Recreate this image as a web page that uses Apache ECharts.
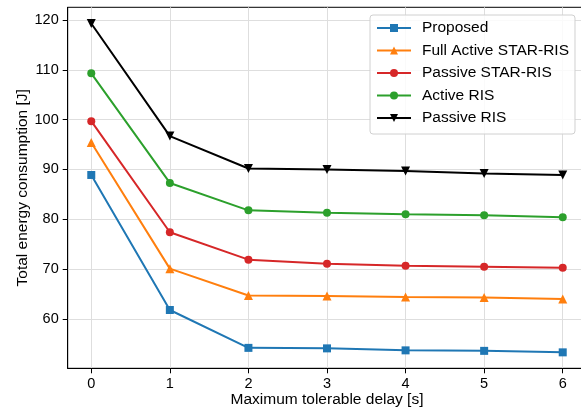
<!DOCTYPE html>
<html>
<head>
<meta charset="utf-8">
<script src="https://cdn.jsdelivr.net/npm/echarts@6/dist/echarts.min.js"></script>
<style>
html,body{margin:0;padding:0;background:#fff;}
#chart{width:581px;height:408px;}
</style>
</head>
<body>
<div id="chart"></div>
<script>
const delays = [0, 1, 2, 3, 4, 5, 6];
const xTicks = [0, 1, 2, 3, 4, 5, 6];
const yTicks = [60, 70, 80, 90, 100, 110, 120];
const proposed    = [88.9, 61.8, 54.2, 54.1, 53.7, 53.6, 53.3];
const fullActive  = [95.4, 70.1, 64.7, 64.6, 64.4, 64.3, 64.0];
const passiveStar = [99.7, 77.4, 71.9, 71.1, 70.7, 70.5, 70.3];
const activeRis   = [109.3, 87.3, 81.8, 81.3, 81.0, 80.8, 80.4];
const passiveRis  = [119.3, 96.7, 90.2, 90.0, 89.7, 89.2, 88.9];

const FONT = 'Liberation Sans, Arial, Helvetica, sans-serif';
const FS = 15.5;
const TFS = 14.5;
const downTri = 'path://M0,0 L10,0 L5,9 Z';

function mk(name, vals, color, symbol, size) {
  return {
    name: name,
    type: 'line',
    data: delays.map((d, i) => [d, vals[i]]),
    symbol: symbol,
    symbolSize: size,
    showAllSymbol: true,
    lineStyle: { color: color, width: 2 },
    itemStyle: { color: color },
    emphasis: { disabled: true },
    animation: false
  };
}

const chart = echarts.init(document.getElementById('chart'), null, { renderer: 'canvas' });
chart.setOption({
  animation: false,
  backgroundColor: '#fff',
  textStyle: { fontFamily: FONT },
  grid: {
    left: 67.7, right: -5.3, top: 7.3, bottom: 39.7,
    outerBoundsMode: 'none', containLabel: false,
    show: true, borderColor: '#000', borderWidth: 1, backgroundColor: 'transparent'
  },
  legend: {
    orient: 'vertical',
    left: 370, top: 15,
    padding: [5, 6, 8, 6],
    itemWidth: 34, itemHeight: 10, itemGap: 6.5,
    backgroundColor: 'rgba(255,255,255,0.85)',
    borderColor: '#d0d0d0', borderWidth: 1, borderRadius: 3,
    textStyle: { fontFamily: FONT, fontSize: FS, color: '#000', padding: [0, 0, 0, 6] },
    data: ['Proposed', 'Full Active STAR-RIS', 'Passive STAR-RIS', 'Active RIS', 'Passive RIS']
  },
  xAxis: {
    type: 'value',
    min: -0.3, max: 6.3,
    name: 'Maximum tolerable delay [s]',
    nameLocation: 'middle', nameGap: 23, nameMoveOverlap: false,
    nameTextStyle: { fontFamily: FONT, fontSize: FS, color: '#000' },
    axisLine: { show: true, onZero: false, lineStyle: { color: '#000', width: 1 } },
    axisTick: { show: true, inside: false, length: 5, customValues: xTicks, lineStyle: { color: '#000', width: 1 } },
    axisLabel: { customValues: xTicks, margin: 8, fontFamily: FONT, fontSize: TFS, color: '#000' },
    splitLine: { show: true, lineStyle: { color: '#dedede', width: 1 } }
  },
  yAxis: {
    type: 'value',
    min: 50.1, max: 122.55,
    name: 'Total energy consumption [J]',
    nameLocation: 'middle', nameGap: 37, nameMoveOverlap: false,
    nameTextStyle: { fontFamily: FONT, fontSize: FS, color: '#000' },
    axisLine: { show: true, onZero: false, lineStyle: { color: '#000', width: 1 } },
    axisTick: { show: true, inside: false, length: 5, customValues: yTicks, lineStyle: { color: '#000', width: 1 } },
    axisLabel: { customValues: yTicks, margin: 9, fontFamily: FONT, fontSize: TFS, color: '#000' },
    splitLine: { show: true, lineStyle: { color: '#dedede', width: 1 } }
  },
  series: [
    mk('Proposed', proposed, '#1f77b4', 'rect', 8),
    mk('Full Active STAR-RIS', fullActive, '#ff7f0e', 'triangle', 9),
    mk('Passive STAR-RIS', passiveStar, '#d62728', 'circle', 8),
    mk('Active RIS', activeRis, '#2ca02c', 'circle', 8),
    mk('Passive RIS', passiveRis, '#000000', downTri, 9)
  ]
});
</script>
</body>
</html>
